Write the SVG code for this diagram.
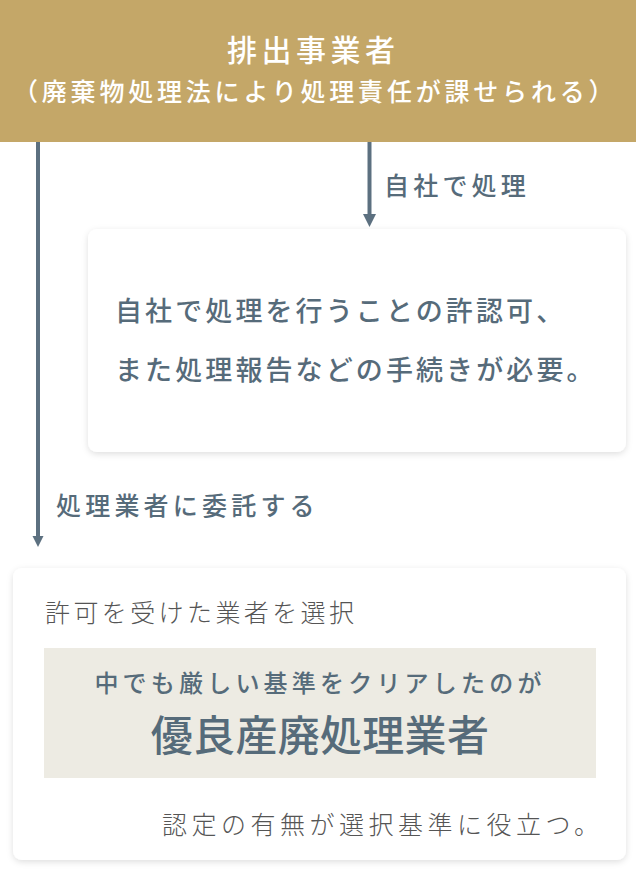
<svg xmlns="http://www.w3.org/2000/svg" width="636" height="872" viewBox="0 0 636 872">
<style>
  text { font-family: "Noto Sans CJK JP", "Noto Sans", sans-serif; }
  .hd { fill: #ffffff; font-weight: 500; }
  .lbl { fill: #566b7a; font-weight: 500; font-size: 25px; letter-spacing: 4.2px; }
  .b1 { fill: #566b7a; font-weight: 500; font-size: 27px; letter-spacing: 3.1px; }
  .gray { fill: #555555; font-weight: 300; font-size: 25px; letter-spacing: 3.4px; }
  .gray2 { letter-spacing: 4.5px; }
  .hl { fill: #566b7a; font-weight: 500; }
  .card { fill: #ffffff; filter: url(#sh); }
  .conn { stroke: #5c7080; stroke-width: 4; fill: none; }
  .head { fill: #5c7080; }
</style>
<defs>
  <filter id="sh" x="-10%" y="-10%" width="120%" height="130%">
    <feDropShadow dx="0" dy="2" stdDeviation="3" flood-color="#000000" flood-opacity="0.13"/>
  </filter>
</defs>
<rect width="636" height="872" fill="#ffffff"/>

<g id="connectors">
  <line class="conn" x1="38" y1="142" x2="38" y2="538"/>
  <path class="head" d="M32.5,536 L43.5,536 L38,547 Z"/>
  <line class="conn" x1="369.5" y1="142" x2="369.5" y2="216"/>
  <path class="head" d="M363,214 L376,214 L369.5,227 Z"/>
  <text class="lbl" x="384" y="195">自社で処理</text>
  <text class="lbl" x="56" y="515">処理業者に委託する</text>
</g>

<g id="header">
  <rect x="0" y="0" width="636" height="142" fill="#c4a768"/>
  <text class="hd" x="227" y="61" font-size="30" letter-spacing="4.5">排出事業者</text>
  <text class="hd" x="13" y="101" font-size="25" letter-spacing="3.8">（廃棄物処理法により処理責任が課せられる）</text>
</g>

<g id="self-box">
  <rect class="card" x="88" y="229" width="538" height="223" rx="9"/>
  <text class="b1" x="115" y="321">自社で処理を行うことの許認可、</text>
  <text class="b1" x="115" y="380">また処理報告などの手続きが必要。</text>
</g>

<g id="contractor-box">
  <rect class="card" x="13" y="568" width="613" height="292" rx="9"/>
  <text class="gray" x="45" y="622">許可を受けた業者を選択</text>
  <rect x="44" y="648" width="552" height="130" fill="#edebe3"/>
  <text class="hl" x="320" y="692" font-size="24" letter-spacing="4.2" text-anchor="middle">中でも厳しい基準をクリアしたのが</text>
  <text class="hl" x="320" y="751" font-size="42" letter-spacing="0.3" text-anchor="middle">優良産廃処理業者</text>
  <text class="gray gray2" x="162" y="834">認定の有無が選択基準に役立つ。</text>
</g>
</svg>
